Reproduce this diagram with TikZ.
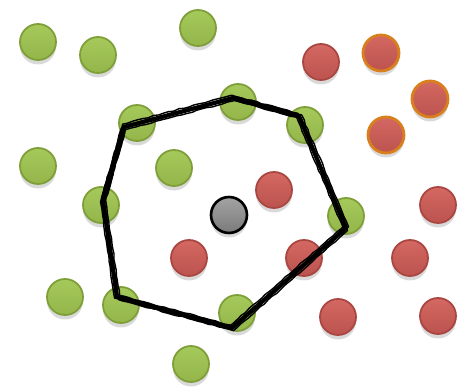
\documentclass[tikz,border=0pt]{standalone}
\usepackage{xcolor}
\usepackage{tikz}
\usetikzlibrary{shadows,decorations.pathmorphing}

\definecolor{greenTop}{HTML}{A6C95C}
\definecolor{greenBot}{HTML}{93B54A}
\definecolor{greenRim}{HTML}{7E9F38}
\definecolor{redTop}{HTML}{D46862}
\definecolor{redBot}{HTML}{BC534E}
\definecolor{redRim}{HTML}{AA4641}
\definecolor{orangeRim}{HTML}{D9801E}

\tikzset{
  dot/.style={circle, minimum size=0.72cm, inner sep=0pt, line width=1pt,
    drop shadow={opacity=0.3, shadow xshift=0pt, shadow yshift=-0.09cm}},
  green dot/.style={dot, draw=greenRim, top color=greenTop, bottom color=greenBot},
  red dot/.style={dot, draw=redRim, top color=redTop, bottom color=redBot},
  orange dot/.style={dot, draw=orangeRim, line width=1.6pt, top color=redTop, bottom color=redBot},
  query dot/.style={dot, draw=black, line width=1.5pt, top color=black!36, bottom color=black!52},
  sketch/.style={line width=2.4pt, line join=round, line cap=round},
  scribble/.style={line width=0.8pt, line join=round, decorate,
    decoration={random steps, segment length=3pt, amplitude=0.3pt}}
}

% outline of the neighbourhood, shifted by #1/#2
\newcommand{\hullpath}[2]{([xshift=#1,yshift=#2]v1) -- ([xshift=#1,yshift=#2]v2)
  -- ([xshift=#1,yshift=#2]v3) -- ([xshift=#1,yshift=#2]v4) -- ([xshift=#1,yshift=#2]v5)
  -- ([xshift=#1,yshift=#2]v6) -- ([xshift=#1,yshift=#2]v7) -- cycle}

\begin{document}
\begin{tikzpicture}[x=0.02cm, y=-0.02cm]
  \useasboundingbox (0,0) rectangle (457,388);
  \pgfmathsetseed{7}

  % Green class
  \foreach \px/\py [count=\i] in {38/42, 98/55, 198/28, 137/123, 238/102, 38/166,
      174/168, 101/205, 305/125, 346/216, 65/297, 121/305, 237/313, 191/364}
    \node[green dot] (g\i) at (\px,\py) {};

  % Red class
  \foreach \px/\py [count=\i] in {321/62, 274/190, 189/258, 438/205, 304/258,
      410/258, 338/317, 438/316}
    \node[red dot] (r\i) at (\px,\py) {};

  % Red with orange rim
  \foreach \px/\py [count=\i] in {381/53, 430/99, 386/135}
    \node[orange dot] (o\i) at (\px,\py) {};

  % Query point
  \node[query dot] (q) at (229,215) {};

  % Neighbourhood outline
  \coordinate (v1) at (124,127);
  \coordinate (v2) at (233,98);
  \coordinate (v3) at (299,116);
  \coordinate (v4) at (346,228);
  \coordinate (v5) at (232,328);
  \coordinate (v6) at (117,297);
  \coordinate (v7) at (103,201);
  \draw[sketch] \hullpath{0pt}{0pt};
  \draw[scribble] \hullpath{1.5pt}{0.6pt};
  \draw[scribble] \hullpath{-0.8pt}{1.6pt};
  \draw[scribble] \hullpath{0.9pt}{-1.5pt};
  \draw[scribble] \hullpath{-1.4pt}{-0.6pt};
\end{tikzpicture}
\end{document}
